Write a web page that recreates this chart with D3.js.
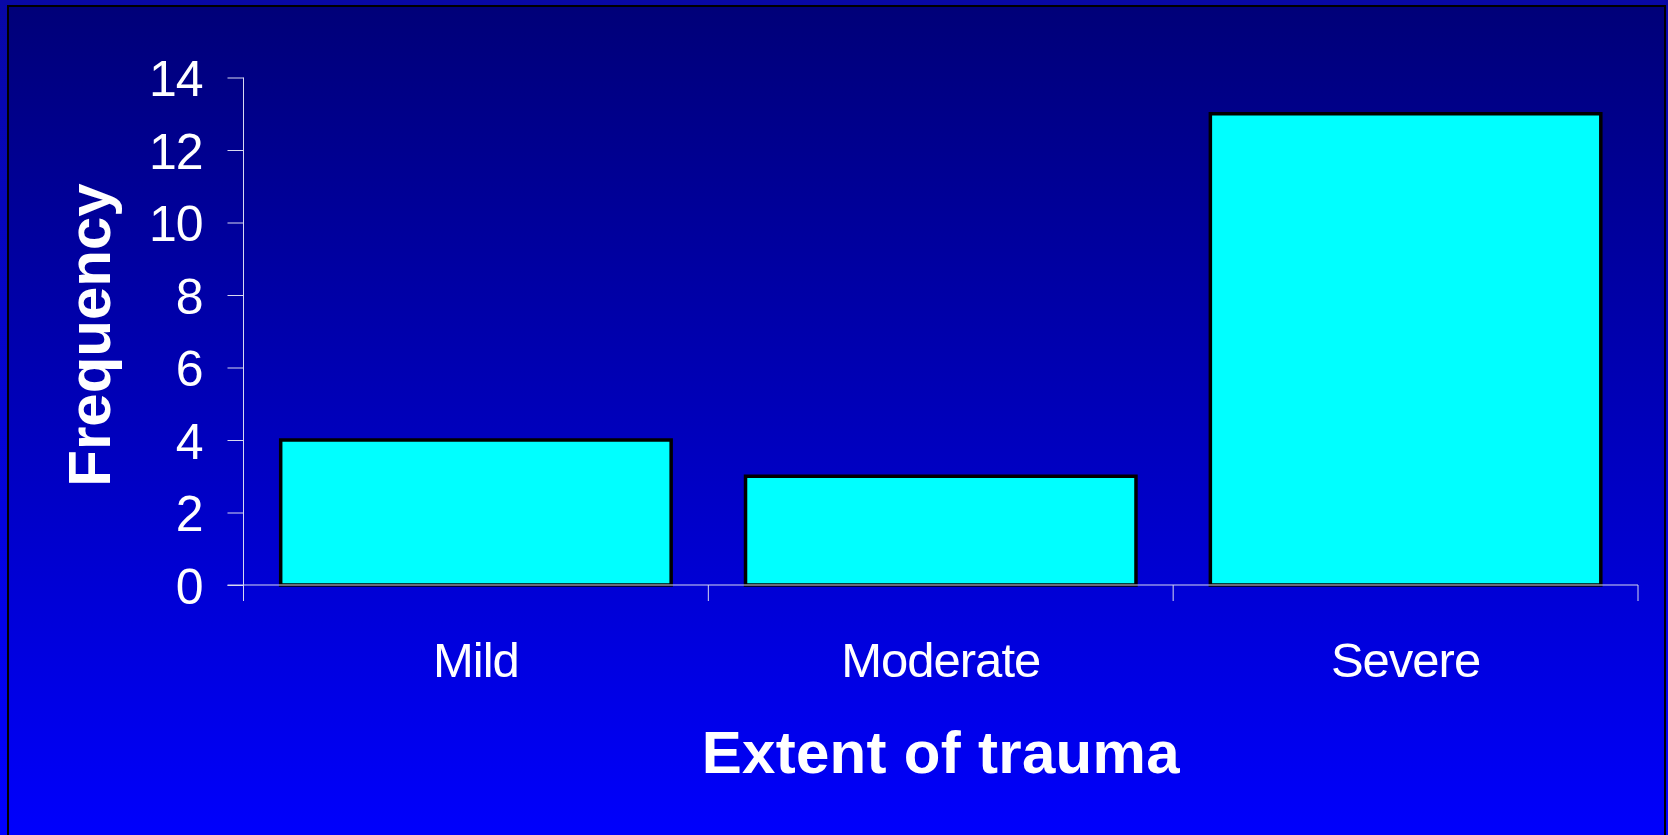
<!DOCTYPE html>
<html>
<head>
<meta charset="utf-8">
<script src="https://cdn.jsdelivr.net/npm/d3@7"></script>
<style>
  html, body { margin: 0; padding: 0; overflow: hidden; background: #0000ff; }
  svg { display: block; font-family: "Liberation Sans", Arial, sans-serif; }
</style>
</head>
<body>
<svg width="1668" height="835"></svg>
<script>
const categories = ["Mild", "Moderate", "Severe"];
const frequency = [4, 3, 13];
const yTicks = [0, 2, 4, 6, 8, 10, 12, 14];

const svg = d3.select("svg"),
    width = +svg.attr("width"),
    height = +svg.attr("height");

// background gradients
const defs = svg.append("defs");
const outerGrad = defs.append("linearGradient").attr("id", "outerGrad").attr("x1", 0).attr("y1", 0).attr("x2", 0).attr("y2", 1);
outerGrad.append("stop").attr("offset", "0%").attr("stop-color", "#0808a6");
outerGrad.append("stop").attr("offset", "100%").attr("stop-color", "#0000ff");
const innerGrad = defs.append("linearGradient").attr("id", "innerGrad").attr("x1", 0).attr("y1", 0).attr("x2", 0).attr("y2", 1);
innerGrad.append("stop").attr("offset", "0%").attr("stop-color", "#000078");
innerGrad.append("stop").attr("offset", "100%").attr("stop-color", "#0000ff");

svg.append("rect").attr("width", width).attr("height", height).attr("fill", "url(#outerGrad)");
svg.append("rect")
    .attr("x", 8).attr("y", 6)
    .attr("width", 1657).attr("height", height + 10)
    .attr("fill", "url(#innerGrad)")
    .attr("stroke", "#000").attr("stroke-width", 2);

const plot = { left: 243.5, right: 1638, top: 77.5, bottom: 585 };

const x = d3.scaleBand()
    .domain(categories)
    .range([plot.left, plot.right])
    .paddingInner(0.16)
    .paddingOuter(0.08);

const xCat = d3.scaleBand()
    .domain(categories)
    .range([plot.left, plot.right])
    .padding(0);

const y = d3.scaleLinear()
    .domain([0, 14])
    .range([plot.bottom, plot.top]);

// bars
svg.append("g").selectAll("rect")
    .data(categories)
    .enter().append("rect")
    .attr("x", (c) => x(c))
    .attr("y", (c, i) => y(frequency[i]))
    .attr("width", x.bandwidth())
    .attr("height", (c, i) => y(0) - y(frequency[i]))
    .attr("fill", "#00ffff")
    .attr("stroke", "#000")
    .attr("stroke-width", 3.5);

// y axis
const yAxis = svg.append("g")
    .attr("transform", "translate(" + plot.left + ",0)")
    .call(d3.axisLeft(y).tickValues(yTicks).tickSize(16).tickPadding(25).tickSizeOuter(0));
yAxis.select(".domain").attr("stroke", "#d8d8f0").attr("d", "M0," + plot.top + "V" + (plot.bottom + 16));
yAxis.selectAll(".tick line").attr("stroke", "#d8d8f0");
yAxis.selectAll(".tick text")
    .attr("fill", "#fff")
    .attr("font-size", 50)
    .attr("letter-spacing", "-1px")
    .attr("dy", "0.36em");

// x axis: ticks at category boundaries
const xAxis = svg.append("g").attr("transform", "translate(0," + plot.bottom + ")");
xAxis.append("line")
    .attr("x1", plot.left - 16).attr("x2", plot.right)
    .attr("stroke", "#d8d8f0");
const bounds = categories.map((c) => xCat(c)).concat([plot.right]);
xAxis.selectAll(".xtick")
    .data(bounds)
    .enter().append("line")
    .attr("x1", (d) => d).attr("x2", (d) => d)
    .attr("y1", 0).attr("y2", 16)
    .attr("stroke", "#d8d8f0");
xAxis.selectAll(".xlabel")
    .data(categories)
    .enter().append("text")
    .attr("x", (c) => xCat(c) + xCat.bandwidth() / 2)
    .attr("y", 92)
    .attr("text-anchor", "middle")
    .attr("fill", "#fff")
    .attr("font-size", 49)
    .attr("letter-spacing", "-1px")
    .text((c) => c);

// axis titles
svg.append("text")
    .attr("x", (plot.left + plot.right) / 2)
    .attr("y", 773)
    .attr("text-anchor", "middle")
    .attr("fill", "#fff")
    .attr("font-size", 60)
    .attr("font-weight", "bold")
    .attr("letter-spacing", "0.3px")
    .text("Extent of trauma");

svg.append("text")
    .attr("transform", "translate(110,335) rotate(-90)")
    .attr("text-anchor", "middle")
    .attr("fill", "#fff")
    .attr("font-size", 60)
    .attr("font-weight", "bold")
    .text("Frequency");
</script>
</body>
</html>
